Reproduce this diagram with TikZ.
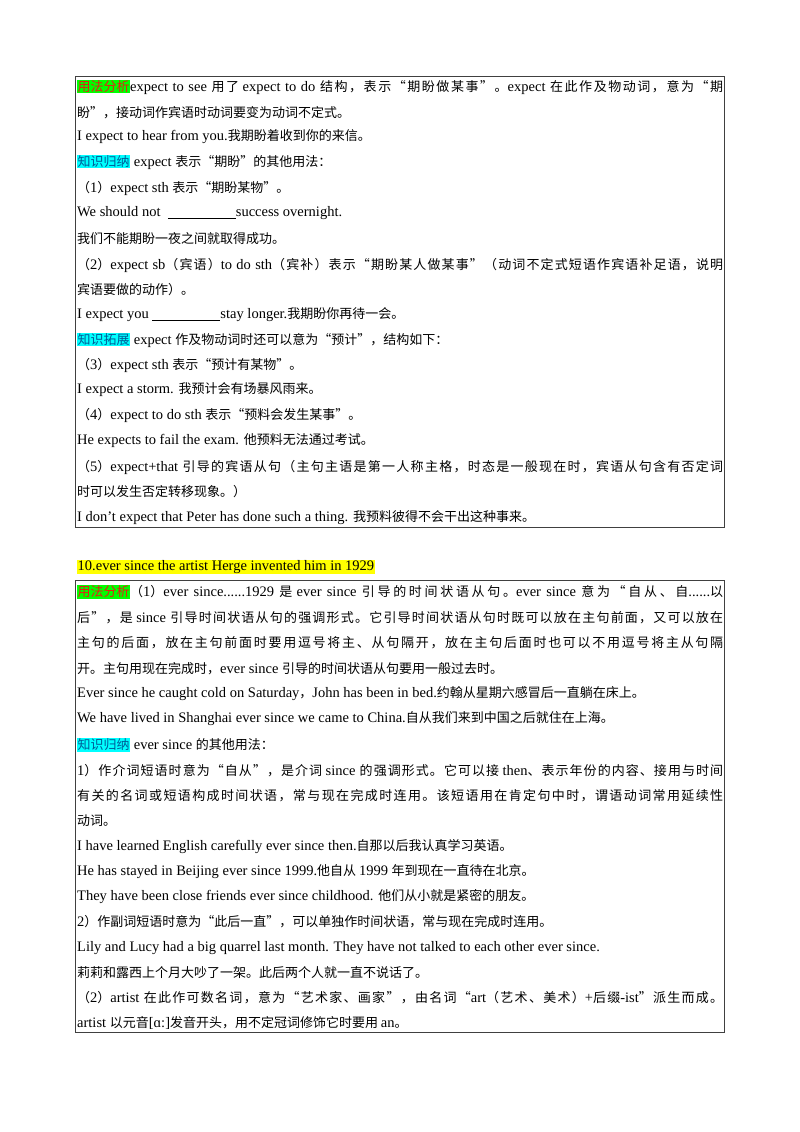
\documentclass[tikz,border=0pt]{standalone}
\usepackage{fontspec}
\setmainfont{Liberation Serif}
\newfontfamily\cjk{Noto Sans CJK SC}
\newcommand{\enf}{\rmfamily\fontsize{14.5}{16}\selectfont}
\newcommand{\cjf}{\cjk\fontsize{13}{14}\selectfont}
\XeTeXinterchartokenstate=1
\newXeTeXintercharclass\cjkcls
\newcount\ci
\def\setrange#1#2{\ci=#1\relax\loop\XeTeXcharclass\ci=\cjkcls\relax\ifnum\ci<#2\advance\ci by 1\repeat}
\setrange{"4E00}{"9FFF}
\setrange{"3000}{"303F}
\setrange{"FF00}{"FFEF}
\XeTeXcharclass"201C=\cjkcls
\XeTeXcharclass"201D=\cjkcls
\XeTeXinterchartoks 0 \cjkcls = {\cjf}
\XeTeXinterchartoks 4095 \cjkcls = {\cjf}
\XeTeXinterchartoks \cjkcls 0 = {\enf}
\XeTeXinterchartoks 4095 0 = {\enf}
\XeTeXinterchartoks \cjkcls \cjkcls = {\hskip0pt plus 3pt\relax}
\definecolor{hgreen}{RGB}{0,255,0}
\definecolor{hcyan}{RGB}{0,255,255}
\definecolor{hyellow}{RGB}{255,255,0}
\definecolor{hred}{RGB}{230,30,20}
\definecolor{hteal}{RGB}{0,90,150}
\newcommand{\hlg}[1]{{\setlength\fboxsep{0.5pt}\colorbox{hgreen}{\color{hred}#1}}}
\newcommand{\hlc}[1]{{\setlength\fboxsep{0.5pt}\colorbox{hcyan}{\color{hteal}#1}}}
\newcommand{\blank}{\rule[-2pt]{68pt}{0.6pt}}
\newcommand{\full}[1]{\makebox[646pt][s]{#1}}
\begin{document}
\begin{tikzpicture}[x=1pt,y=-1pt,
  ln/.style={anchor=west,inner sep=0pt,font=\enf},
  box/.style={draw=black!75,line width=1pt}]
\useasboundingbox (0,0) rectangle (800,1132);
\draw[box] (75,76) rectangle (724,527);
\draw[box] (75,580) rectangle (724,1032);
\node[ln] (a1) at (77,87) {\full{\hlg{用法分析}expect to see 用了 expect to do 结构，表示“期盼做某事”。expect 在此作及物动词，意为“期}};
\node[ln] (a2) at (77,113) {盼”，接动词作宾语时动词要变为动词不定式。};
\node[ln] (a3) at (77,137) {I expect to hear from you.我期盼着收到你的来信。};
\node[ln] (a4) at (77,162) {\hlc{知识归纳} expect 表示“期盼”的其他用法：};
\node[ln] (a5) at (77,188) {（1）expect sth 表示“期盼某物”。};
\node[ln] (a6) at (77,213) {We should not \ \blank success overnight.};
\node[ln] (a7) at (77,239) {我们不能期盼一夜之间就取得成功。};
\node[ln] (a8) at (77,265) {\full{（2）expect sb（宾语）to do sth（宾补）表示“期盼某人做某事”（动词不定式短语作宾语补足语，说明}};
\node[ln] (a9) at (77,290) {宾语要做的动作）。};
\node[ln] (a10) at (77,315) {I expect you \blank stay longer.我期盼你再待一会。};
\node[ln] (a11) at (77,340) {\hlc{知识拓展} expect 作及物动词时还可以意为“预计”，结构如下：};
\node[ln] (a12) at (77,365) {（3）expect sth 表示“预计有某物”。};
\node[ln] (a13) at (77,390) {I expect a storm. 我预计会有场暴风雨来。};
\node[ln] (a14) at (77,415) {（4）expect to do sth 表示“预料会发生某事”。};
\node[ln] (a15) at (77,441) {He expects to fail the exam. 他预料无法通过考试。};
\node[ln] (a16) at (77,467) {\full{（5）expect+that 引导的宾语从句（主句主语是第一人称主格，时态是一般现在时，宾语从句含有否定词}};
\node[ln] (a17) at (77,492) {时可以发生否定转移现象。）};
\node[ln] (a18) at (77,518) {I don’t expect that Peter has done such a thing. 我预料彼得不会干出这种事来。};
\node[ln] (h) at (77,567) {{\setlength\fboxsep{0.5pt}\colorbox{hyellow}{10.ever since the artist Herge invented him in 1929}}};
\node[ln] (b1) at (77,592) {\full{\hlg{用法分析}（1）ever since......1929 是 ever since 引导的时间状语从句。ever since 意为“自从、自......以}};
\node[ln] (b2) at (77,618) {\full{后”，是 since 引导时间状语从句的强调形式。它引导时间状语从句时既可以放在主句前面，又可以放在}};
\node[ln] (b3) at (77,643) {\full{主句的后面，放在主句前面时要用逗号将主、从句隔开，放在主句后面时也可以不用逗号将主从句隔}};
\node[ln] (b4) at (77,669) {开。主句用现在完成时，ever since 引导的时间状语从句要用一般过去时。};
\node[ln] (b5) at (77,694) {Ever since he caught cold on Saturday，John has been in bed.约翰从星期六感冒后一直躺在床上。};
\node[ln] (b6) at (77,719) {We have lived in Shanghai ever since we came to China.自从我们来到中国之后就住在上海。};
\node[ln] (b7) at (77,745) {\hlc{知识归纳} ever since 的其他用法：};
\node[ln] (b8) at (77,771) {\full{1）作介词短语时意为“自从”，是介词 since 的强调形式。它可以接 then、表示年份的内容、接用与时间}};
\node[ln] (b9) at (77,796) {\full{有关的名词或短语构成时间状语，常与现在完成时连用。该短语用在肯定句中时，谓语动词常用延续性}};
\node[ln] (b10) at (77,821) {动词。};
\node[ln] (b11) at (77,847) {I have learned English carefully ever since then.自那以后我认真学习英语。};
\node[ln] (b12) at (77,872) {He has stayed in Beijing ever since 1999.他自从 1999 年到现在一直待在北京。};
\node[ln] (b13) at (77,897) {They have been close friends ever since childhood. 他们从小就是紧密的朋友。};
\node[ln] (b14) at (77,922) {2）作副词短语时意为“此后一直”，可以单独作时间状语，常与现在完成时连用。};
\node[ln] (b15) at (77,948) {Lily and Lucy had a big quarrel last month. They have not talked to each other ever since.};
\node[ln] (b16) at (77,973) {莉莉和露西上个月大吵了一架。此后两个人就一直不说话了。};
\node[ln] (b17) at (77,998) {\full{（2）artist 在此作可数名词，意为“艺术家、画家”，由名词“art（艺术、美术）+后缀-ist”派生而成。}};
\node[ln] (b18) at (77,1023) {artist 以元音[ɑ:]发音开头，用不定冠词修饰它时要用 an。};
\end{tikzpicture}
\end{document}
